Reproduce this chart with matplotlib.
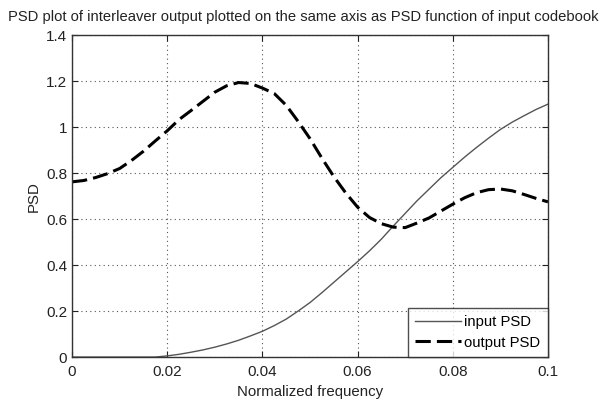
import matplotlib
matplotlib.use("Agg")
import matplotlib.pyplot as plt

plt.rcParams['font.family'] = ['Liberation Sans', 'DejaVu Sans']

freq = [0.0, 0.0025, 0.005, 0.0075, 0.01, 0.0125, 0.015, 0.0175, 0.02, 0.0225,
        0.025, 0.0275, 0.03, 0.0325, 0.035, 0.0375, 0.04, 0.0425, 0.045, 0.0475,
        0.05, 0.0525, 0.055, 0.0575, 0.06, 0.0625, 0.065, 0.0675, 0.07, 0.0725,
        0.075, 0.0775, 0.08, 0.0825, 0.085, 0.0875, 0.09, 0.0925, 0.095, 0.0975, 0.1]
input_psd = [0.0, 0.0, 0.0, 0.0, 0.0, 0.0, 0.0, 0.0, 0.005, 0.012,
             0.021, 0.031, 0.043, 0.057, 0.073, 0.092, 0.112, 0.137, 0.165, 0.2,
             0.237, 0.28, 0.325, 0.37, 0.415, 0.462, 0.513, 0.57, 0.625, 0.68,
             0.73, 0.78, 0.825, 0.87, 0.912, 0.952, 0.99, 1.022, 1.05, 1.077, 1.1]
output_psd = [0.762, 0.768, 0.781, 0.798, 0.82, 0.855, 0.895, 0.94, 0.984, 1.033,
              1.072, 1.112, 1.152, 1.18, 1.194, 1.19, 1.17, 1.146, 1.095, 1.025,
              0.95, 0.865, 0.785, 0.714, 0.652, 0.607, 0.58, 0.565, 0.563, 0.583,
              0.605, 0.635, 0.665, 0.693, 0.715, 0.728, 0.731, 0.723, 0.707, 0.69, 0.675]

fig = plt.figure(figsize=(6.06, 4.09), dpi=100)
ax = fig.add_axes([0.1188, 0.127, 0.7855, 0.787])

ax.plot(freq, input_psd, color='#555555', lw=1.0, label='input PSD')
ax.plot(freq, output_psd, color='black', lw=2.2, ls=(0, (5.0, 2.0)), label='output PSD')

ax.set_xlim(0, 0.1)
ax.set_ylim(0, 1.4)
ax.set_xticks([0, 0.02, 0.04, 0.06, 0.08, 0.1])
ax.set_xticklabels(['0', '0.02', '0.04', '0.06', '0.08', '0.1'])
ax.set_yticks([0, 0.2, 0.4, 0.6, 0.8, 1.0, 1.2, 1.4])
ax.set_yticklabels(['0', '0.2', '0.4', '0.6', '0.8', '1', '1.2', '1.4'])
ax.tick_params(direction='in', top=True, right=True, length=4, labelsize=11,
               colors='#222222')
ax.tick_params(axis='x', pad=5.5)
ax.grid(True, ls=(0, (1, 3)), color='#555555', lw=0.8)
for s in ax.spines.values():
    s.set_color('#333333')
    s.set_linewidth(1.0)

ax.set_xlabel('Normalized frequency', fontsize=10.8, color='#222222', labelpad=4.5)
ax.set_ylabel('PSD', fontsize=10.8, color='#222222', labelpad=4)
fig.text(0.5, 1 - 17 / 409,
         'PSD plot of interleaver output plotted on the same axis as PSD function of input codebook',
         fontsize=10.6, color='#222222', ha='center', va='center')

leg = ax.legend(loc='lower right', fontsize=10.7, frameon=True, fancybox=False,
                borderaxespad=0, handlelength=3.1, handletextpad=0.2,
                borderpad=0.5, labelspacing=0.45)
leg.get_frame().set_edgecolor('#222222')
leg.get_frame().set_linewidth(1.0)

fig.savefig('out.png', dpi=100)
